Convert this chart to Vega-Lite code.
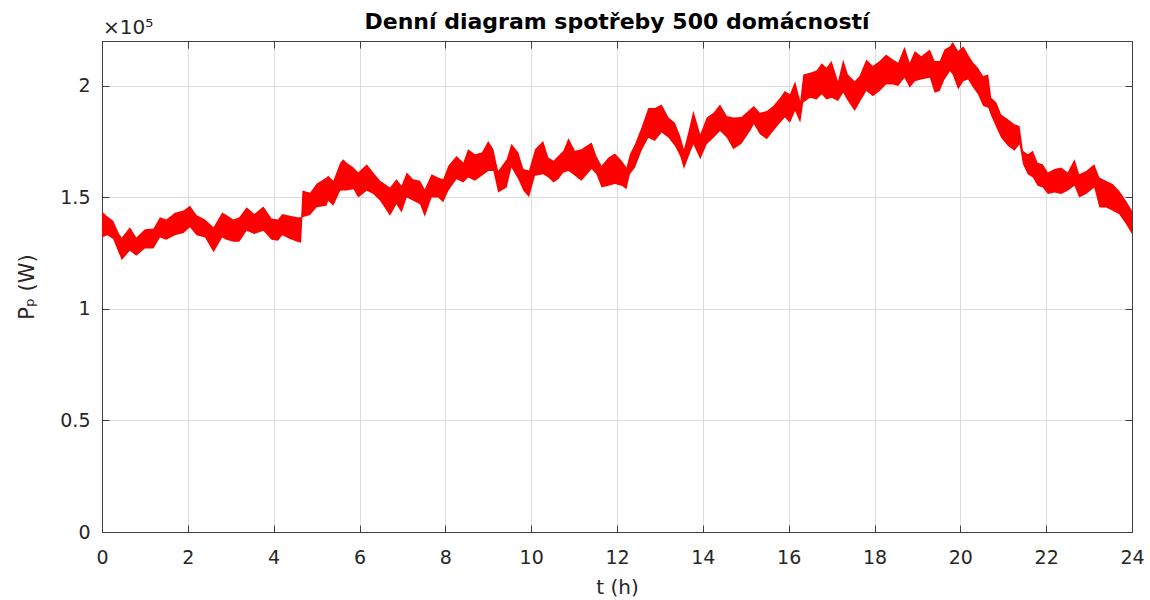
{
  "$schema": "https://vega.github.io/schema/vega-lite/v6.json",
  "width": 1030,
  "height": 491,
  "autosize": "none",
  "padding": {"left": 102, "top": 41, "right": 18, "bottom": 68},
  "background": "white",
  "config": {
    "view": {"stroke": "#404040", "strokeWidth": 1},
    "font": "DejaVu Sans",
    "axis": {
      "labelFont": "DejaVu Sans",
      "titleFont": "DejaVu Sans",
      "labelColor": "#262626",
      "titleColor": "#262626",
      "domainColor": "#404040",
      "tickColor": "#404040",
      "gridColor": "#dcdcdc",
      "labelFontSize": 19,
      "titleFontSize": 20,
      "titleFontWeight": "normal"
    }
  },
  "title": {
    "text": "Denní diagram spotřeby 500 domácností",
    "font": "DejaVu Sans",
    "fontSize": 22,
    "fontWeight": "bold",
    "color": "#000000",
    "anchor": "middle",
    "offset": -16
  },
  "datasets": {
    "load": [
      {"t": 0.0, "hi": 143600, "lo": 132000},
      {"t": 0.12, "hi": 141500, "lo": 133000},
      {"t": 0.26, "hi": 139500, "lo": 131300},
      {"t": 0.4, "hi": 133500, "lo": 124600},
      {"t": 0.46, "hi": 132000, "lo": 121900},
      {"t": 0.65, "hi": 136500, "lo": 126000},
      {"t": 0.8, "hi": 132000, "lo": 123800},
      {"t": 1.0, "hi": 135700, "lo": 127000},
      {"t": 1.2, "hi": 136000, "lo": 127000},
      {"t": 1.35, "hi": 141000, "lo": 132000},
      {"t": 1.5, "hi": 140000, "lo": 131000},
      {"t": 1.7, "hi": 143000, "lo": 133000},
      {"t": 1.9, "hi": 144000, "lo": 134000},
      {"t": 2.05, "hi": 146200, "lo": 136500},
      {"t": 2.2, "hi": 142000, "lo": 133000},
      {"t": 2.4, "hi": 140000, "lo": 132000},
      {"t": 2.6, "hi": 136500, "lo": 125300},
      {"t": 2.8, "hi": 143200, "lo": 132000},
      {"t": 2.9, "hi": 142000, "lo": 131000},
      {"t": 3.06, "hi": 140000, "lo": 130000},
      {"t": 3.2, "hi": 141000, "lo": 130000},
      {"t": 3.37, "hi": 145500, "lo": 135000},
      {"t": 3.55, "hi": 142500, "lo": 133500},
      {"t": 3.76, "hi": 145800, "lo": 135000},
      {"t": 3.95, "hi": 140500, "lo": 131000},
      {"t": 4.1, "hi": 140000, "lo": 130500},
      {"t": 4.2, "hi": 142500, "lo": 133000},
      {"t": 4.38, "hi": 141700, "lo": 131300},
      {"t": 4.55, "hi": 141000, "lo": 130000},
      {"t": 4.64, "hi": 141000, "lo": 129600},
      {"t": 4.67, "hi": 153000, "lo": 141000},
      {"t": 4.85, "hi": 152000, "lo": 142000},
      {"t": 5.0, "hi": 156000, "lo": 145500},
      {"t": 5.23, "hi": 158800, "lo": 146200},
      {"t": 5.27, "hi": 159600, "lo": 148400},
      {"t": 5.39, "hi": 157400, "lo": 146200},
      {"t": 5.55, "hi": 165500, "lo": 152900},
      {"t": 5.62, "hi": 167000, "lo": 153000},
      {"t": 5.7, "hi": 165500, "lo": 153000},
      {"t": 5.86, "hi": 163300, "lo": 153600},
      {"t": 5.97, "hi": 161100, "lo": 149900},
      {"t": 6.17, "hi": 164800, "lo": 152900},
      {"t": 6.32, "hi": 161100, "lo": 151400},
      {"t": 6.48, "hi": 157400, "lo": 148400},
      {"t": 6.71, "hi": 154400, "lo": 141700},
      {"t": 6.86, "hi": 158100, "lo": 146900},
      {"t": 6.98, "hi": 155100, "lo": 143200},
      {"t": 7.1, "hi": 161100, "lo": 149900},
      {"t": 7.25, "hi": 158100, "lo": 148400},
      {"t": 7.41, "hi": 157400, "lo": 146900},
      {"t": 7.52, "hi": 153600, "lo": 141200},
      {"t": 7.68, "hi": 160300, "lo": 149900},
      {"t": 7.83, "hi": 158800, "lo": 149900},
      {"t": 7.95, "hi": 158100, "lo": 147700},
      {"t": 8.07, "hi": 164100, "lo": 152900},
      {"t": 8.26, "hi": 168500, "lo": 158100},
      {"t": 8.42, "hi": 165600, "lo": 156600},
      {"t": 8.53, "hi": 171500, "lo": 158800},
      {"t": 8.69, "hi": 169300, "lo": 157400},
      {"t": 8.85, "hi": 170000, "lo": 159600},
      {"t": 9.0, "hi": 175200, "lo": 161800},
      {"t": 9.12, "hi": 171500, "lo": 161800},
      {"t": 9.23, "hi": 161800, "lo": 152100},
      {"t": 9.43, "hi": 167000, "lo": 154400},
      {"t": 9.54, "hi": 174000, "lo": 163300},
      {"t": 9.7, "hi": 170000, "lo": 158000},
      {"t": 9.82, "hi": 162600, "lo": 152900},
      {"t": 9.95, "hi": 162000, "lo": 150000},
      {"t": 10.09, "hi": 171500, "lo": 159600},
      {"t": 10.28, "hi": 175200, "lo": 160300},
      {"t": 10.4, "hi": 167800, "lo": 158800},
      {"t": 10.52, "hi": 166300, "lo": 156600},
      {"t": 10.63, "hi": 168500, "lo": 158100},
      {"t": 10.75, "hi": 170800, "lo": 161100},
      {"t": 10.87, "hi": 176400, "lo": 161800},
      {"t": 11.02, "hi": 170800, "lo": 159600},
      {"t": 11.17, "hi": 171500, "lo": 157400},
      {"t": 11.41, "hi": 174500, "lo": 162600},
      {"t": 11.52, "hi": 168500, "lo": 160300},
      {"t": 11.64, "hi": 164100, "lo": 154400},
      {"t": 11.8, "hi": 167800, "lo": 155100},
      {"t": 11.95, "hi": 169600, "lo": 155900},
      {"t": 12.11, "hi": 166300, "lo": 155100},
      {"t": 12.22, "hi": 163300, "lo": 153600},
      {"t": 12.3, "hi": 169300, "lo": 160300},
      {"t": 12.42, "hi": 173800, "lo": 163300},
      {"t": 12.57, "hi": 181200, "lo": 170800},
      {"t": 12.73, "hi": 190000, "lo": 176700},
      {"t": 12.88, "hi": 190000, "lo": 175200},
      {"t": 13.04, "hi": 191600, "lo": 179000},
      {"t": 13.2, "hi": 185700, "lo": 176700},
      {"t": 13.35, "hi": 183400, "lo": 173000},
      {"t": 13.47, "hi": 177500, "lo": 168500},
      {"t": 13.56, "hi": 171500, "lo": 162600},
      {"t": 13.66, "hi": 179000, "lo": 167800},
      {"t": 13.78, "hi": 188700, "lo": 173700},
      {"t": 13.94, "hi": 178200, "lo": 167000},
      {"t": 14.09, "hi": 185700, "lo": 173700},
      {"t": 14.25, "hi": 187900, "lo": 176700},
      {"t": 14.4, "hi": 191600, "lo": 179700},
      {"t": 14.56, "hi": 186400, "lo": 176700},
      {"t": 14.71, "hi": 185700, "lo": 171500},
      {"t": 14.9, "hi": 186000, "lo": 174000},
      {"t": 15.1, "hi": 189400, "lo": 179700},
      {"t": 15.19, "hi": 190900, "lo": 182700},
      {"t": 15.33, "hi": 187900, "lo": 178200},
      {"t": 15.49, "hi": 188600, "lo": 176000},
      {"t": 15.64, "hi": 190900, "lo": 179700},
      {"t": 15.8, "hi": 194600, "lo": 183400},
      {"t": 15.91, "hi": 197600, "lo": 185700},
      {"t": 16.03, "hi": 196100, "lo": 183400},
      {"t": 16.15, "hi": 202000, "lo": 188600},
      {"t": 16.27, "hi": 193100, "lo": 183400},
      {"t": 16.34, "hi": 205000, "lo": 192400},
      {"t": 16.5, "hi": 205800, "lo": 194600},
      {"t": 16.65, "hi": 206800, "lo": 193800},
      {"t": 16.77, "hi": 210000, "lo": 196100},
      {"t": 16.88, "hi": 208000, "lo": 193800},
      {"t": 17.0, "hi": 211000, "lo": 194600},
      {"t": 17.15, "hi": 202000, "lo": 193100},
      {"t": 17.27, "hi": 211700, "lo": 196800},
      {"t": 17.38, "hi": 205000, "lo": 193100},
      {"t": 17.54, "hi": 202000, "lo": 188600},
      {"t": 17.65, "hi": 204300, "lo": 192400},
      {"t": 17.81, "hi": 211700, "lo": 197600},
      {"t": 17.96, "hi": 208800, "lo": 195300},
      {"t": 18.12, "hi": 211000, "lo": 197600},
      {"t": 18.27, "hi": 214000, "lo": 200500},
      {"t": 18.43, "hi": 211700, "lo": 200500},
      {"t": 18.55, "hi": 210200, "lo": 199800},
      {"t": 18.7, "hi": 217400, "lo": 203500},
      {"t": 18.82, "hi": 210200, "lo": 199100},
      {"t": 18.94, "hi": 215500, "lo": 202000},
      {"t": 19.09, "hi": 213200, "lo": 202800},
      {"t": 19.29, "hi": 216200, "lo": 203500},
      {"t": 19.4, "hi": 211000, "lo": 196800},
      {"t": 19.52, "hi": 211000, "lo": 197600},
      {"t": 19.63, "hi": 216200, "lo": 202800},
      {"t": 19.76, "hi": 217700, "lo": 206500},
      {"t": 19.82, "hi": 219500, "lo": 205000},
      {"t": 19.95, "hi": 215500, "lo": 198300},
      {"t": 20.07, "hi": 217700, "lo": 202000},
      {"t": 20.18, "hi": 214000, "lo": 202800},
      {"t": 20.3, "hi": 210200, "lo": 199100},
      {"t": 20.41, "hi": 208000, "lo": 196100},
      {"t": 20.53, "hi": 204300, "lo": 190900},
      {"t": 20.65, "hi": 205000, "lo": 190100},
      {"t": 20.72, "hi": 194600, "lo": 186400},
      {"t": 20.84, "hi": 192400, "lo": 181200},
      {"t": 20.95, "hi": 187100, "lo": 176700},
      {"t": 21.11, "hi": 184900, "lo": 173000},
      {"t": 21.26, "hi": 182700, "lo": 170800},
      {"t": 21.38, "hi": 181900, "lo": 173700},
      {"t": 21.46, "hi": 170800, "lo": 164800},
      {"t": 21.57, "hi": 169300, "lo": 160300},
      {"t": 21.69, "hi": 170800, "lo": 158800},
      {"t": 21.8, "hi": 165500, "lo": 155100},
      {"t": 21.92, "hi": 164800, "lo": 154400},
      {"t": 22.04, "hi": 161100, "lo": 151400},
      {"t": 22.19, "hi": 162600, "lo": 152100},
      {"t": 22.35, "hi": 163300, "lo": 151400},
      {"t": 22.5, "hi": 161100, "lo": 152900},
      {"t": 22.66, "hi": 167000, "lo": 155100},
      {"t": 22.77, "hi": 160300, "lo": 149900},
      {"t": 22.93, "hi": 161800, "lo": 151400},
      {"t": 23.12, "hi": 164800, "lo": 154400},
      {"t": 23.24, "hi": 158800, "lo": 145400},
      {"t": 23.4, "hi": 157300, "lo": 145400},
      {"t": 23.55, "hi": 155900, "lo": 143900},
      {"t": 23.7, "hi": 152900, "lo": 142400},
      {"t": 23.86, "hi": 148400, "lo": 138000},
      {"t": 24.0, "hi": 143900, "lo": 133500}
    ]
  },
  "layer": [
    {
      "data": {"name": "load"},
      "mark": {"type": "area", "color": "#ff0000", "opacity": 1},
      "encoding": {
        "x": {
          "field": "t", "type": "quantitative",
          "scale": {"domain": [0, 24], "nice": false, "zero": false},
          "axis": {
            "orient": "bottom",
            "title": "t (h)",
            "values": [0, 2, 4, 6, 8, 10, 12, 14, 16, 18, 20, 22, 24],
            "grid": true,
            "tickSize": -7,
            "labelPadding": 23,
            "titlePadding": 10,
            "labelFlush": false
          }
        },
        "y": {
          "field": "hi", "type": "quantitative",
          "scale": {"domain": [0, 220000], "nice": false},
          "axis": {
            "orient": "left",
            "title": "Pₚ (W)",
            "titleFontSize": 21,
            "values": [0, 50000, 100000, 150000, 200000],
            "labelExpr": "datum.value / 100000",
            "grid": true,
            "tickSize": -7,
            "labelPadding": 19,
            "titlePadding": 22
          }
        },
        "y2": {"field": "lo"}
      }
    },
    {
      "data": {"values": [{"t": 0, "v": 220000, "label": "×10⁵"}]},
      "mark": {"type": "text", "align": "left", "baseline": "alphabetic", "dy": -7, "dx": 1, "fontSize": 20, "color": "#262626", "font": "DejaVu Sans"},
      "encoding": {
        "x": {"field": "t", "type": "quantitative", "axis": null},
        "y": {"field": "v", "type": "quantitative", "axis": null},
        "text": {"field": "label"}
      }
    },
    {
      "data": {"values": [{"t": 0, "v": 0}]},
      "mark": {"type": "point", "opacity": 0},
      "encoding": {
        "x": {
          "field": "t", "type": "quantitative",
          "axis": {"orient": "top", "title": null, "labels": false, "grid": false, "tickSize": -7,
                   "values": [0, 2, 4, 6, 8, 10, 12, 14, 16, 18, 20, 22, 24]}
        },
        "y": {
          "field": "v", "type": "quantitative",
          "axis": {"orient": "right", "title": null, "labels": false, "grid": false, "tickSize": -7,
                   "values": [0, 50000, 100000, 150000, 200000]}
        }
      }
    }
  ],
  "resolve": {"axis": {"x": "independent", "y": "independent"}}
}
